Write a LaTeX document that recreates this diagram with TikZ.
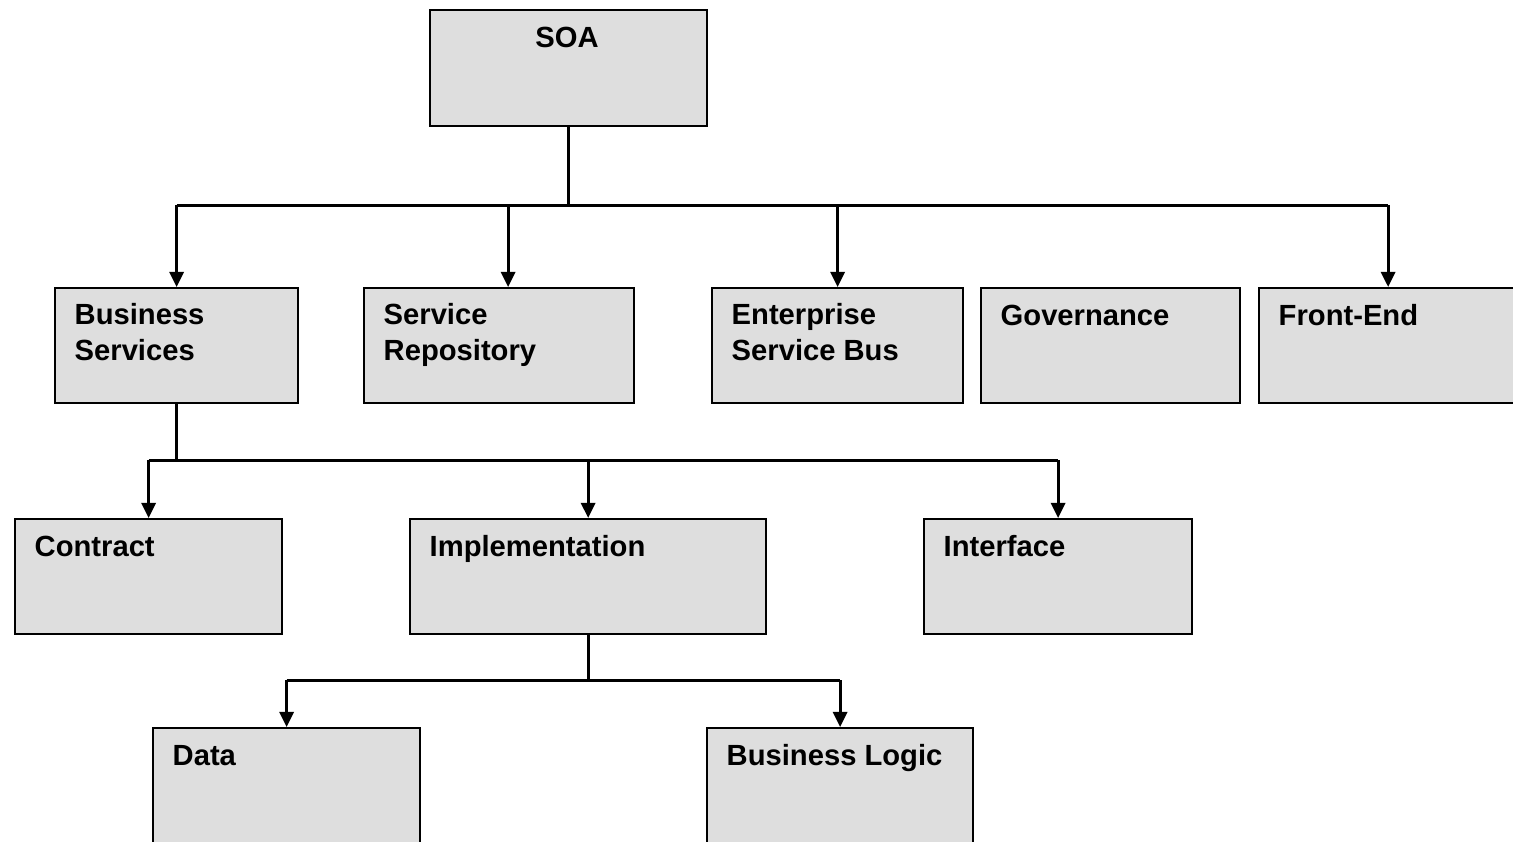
\documentclass[tikz,border=0pt]{standalone}
\usepackage{fontspec}
\setmainfont{Liberation Sans}
\usepackage{tikz}
\usetikzlibrary{positioning, calc, arrows.meta}
\definecolor{boxgray}{RGB}{222,222,222}

\begin{document}
\begin{tikzpicture}[x=0.01cm, y=-0.01cm,
	box/.style={draw, line width=0.6pt, fill=boxgray, anchor=north west, inner sep=0pt, minimum height=1.15cm},
	txt/.style={font=\fontsize{8.3}{10}\selectfont\bfseries, align=left, anchor=north west, inner sep=0pt,
		execute at begin node=\strut},
	wire/.style={line width=0.85pt},
	arr/.style={wire, -{Triangle[width=4pt, length=4.3pt]}}]
\useasboundingbox (0,0) rectangle (1513,841);
% top box
\node[box, minimum width=2.77cm, minimum height=1.16cm] (soa) at (429,9) {};
\node[txt, anchor=north] (soa-t) at (567,22) {SOA};
% the other boxes
\foreach \n/\x/\y/\w/\d/\t in {bs/54/287/2.43/16/{Business\\Services}, sr/363/287/2.70/16/{Service\\Repository},
	esb/711/287/2.51/16/{Enterprise\\Service Bus}, gov/980/287/2.59/13/Governance, fe/1258/287/2.58/13/Front-End,
	con/14/518/2.67/13/Contract, imp/409/518/3.56/13/Implementation, int/923/518/2.68/13/Interface,
	data/152/727/2.67/13/Data, bl/706/727/2.66/13/Business Logic}
{
	\node[box, minimum width=\w cm] (\n) at (\x,\y) {};
	\node[txt] (\n-t) at ($(\n.north west)+(20,\d)$) {\t};
}
% first level
\coordinate (j1) at ($(soa.south)+(0,78)$);
\draw[wire] (soa.south) -- (j1);
\draw[wire] (j1 -| bs.north) -- (j1 -| fe.north);
\foreach \b in {bs, esb, fe}
	\draw[arr] (j1 -| \b.north) -- (\b.north);
\draw[arr] (j1 -| {$(sr.north)+(9,0)$}) -- ($(sr.north)+(9,0)$);
% second level
\coordinate (j2) at ($(bs.south)+(0,56)$);
\draw[wire] (bs.south) -- (j2);
\draw[wire] (j2 -| con.north) -- (j2 -| int.north);
\foreach \b in {con, imp, int}
	\draw[arr] (j2 -| \b.north) -- (\b.north);
% third level
\coordinate (j3) at ($(imp.south)+(0,45)$);
\draw[wire] (imp.south) -- (j3);
\draw[wire] (j3 -| data.north) -- (j3 -| bl.north);
\foreach \b in {data, bl}
	\draw[arr] (j3 -| \b.north) -- (\b.north);
\end{tikzpicture}
\end{document}
